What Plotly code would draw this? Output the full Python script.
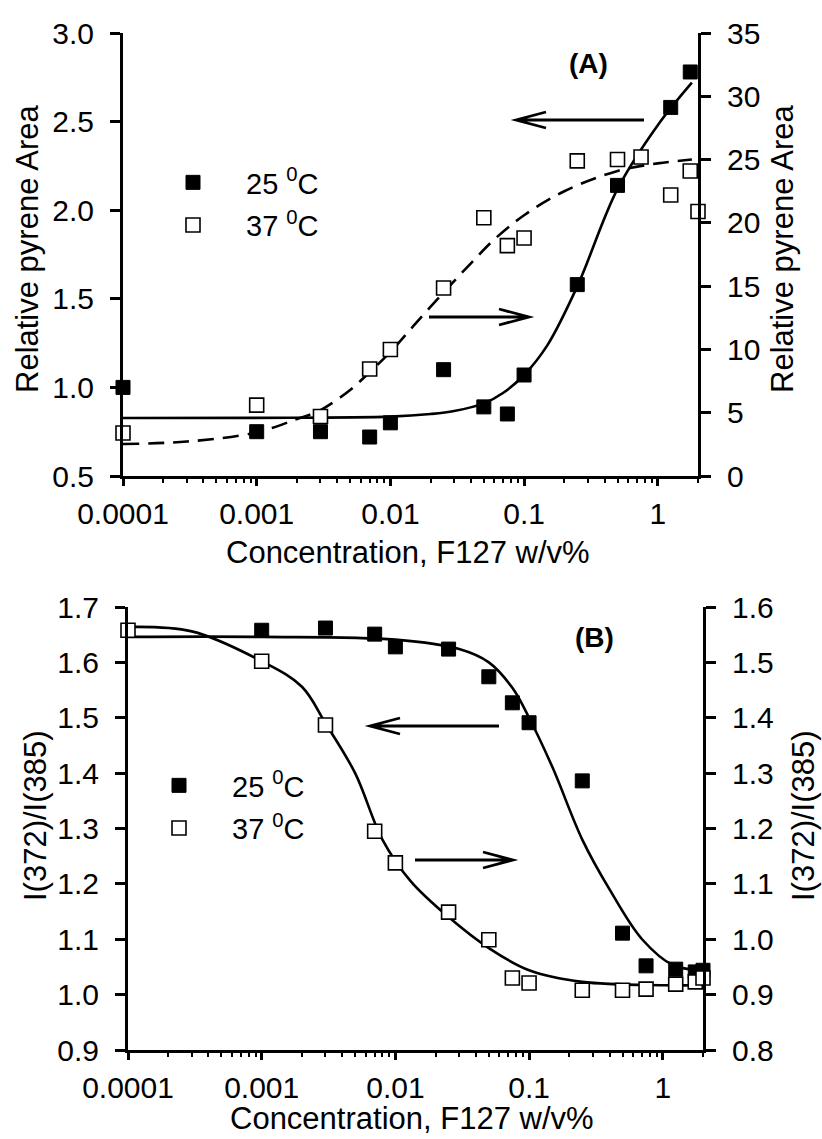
import math
import plotly.graph_objects as go

# ---------------- data ----------------
# Panel A: relative pyrene area
A_x25 = [0.0001, 0.001, 0.003, 0.007, 0.01, 0.025, 0.05, 0.075, 0.1, 0.25, 0.5, 1.25, 1.75]
A_y25 = [1.00, 0.75, 0.75, 0.72, 0.80, 1.10, 0.89, 0.85, 1.07, 1.58, 2.14, 2.58, 2.78]
A_x37 = [0.0001, 0.001, 0.003, 0.007, 0.01, 0.025, 0.05, 0.075, 0.1, 0.25, 0.5, 0.75, 1.25, 1.75, 2.0]
A_y37 = [3.4, 5.6, 4.7, 8.45, 10.0, 14.85, 20.4, 18.2, 18.8, 24.9, 25.0, 25.2, 22.2, 24.1, 20.9]
A_fit25_x = [0.0001, 0.001, 0.01, 0.02, 0.03, 0.05, 0.07, 0.1, 0.15, 0.25, 0.5, 1.0, 1.8]
A_fit25_y = [0.827, 0.828, 0.835, 0.85, 0.867, 0.91, 0.97, 1.07, 1.24, 1.57, 2.12, 2.48, 2.72]
A_fit37_x = [0.0001, 0.0003, 0.001, 0.002, 0.003, 0.005, 0.007, 0.01, 0.015, 0.025, 0.04, 0.06, 0.1, 0.2, 0.5, 1.0, 1.8]
A_fit37_y = [2.53, 2.72, 3.45, 4.5, 5.2, 6.8, 8.2, 9.8, 11.9, 14.5, 16.8, 18.7, 20.6, 22.5, 24.1, 24.7, 25.0]

# Panel B: I(372)/I(385)
B_x25 = [0.001, 0.003, 0.007, 0.01, 0.025, 0.05, 0.075, 0.1, 0.25, 0.5, 0.75, 1.25, 1.75, 2.0]
B_y25 = [1.658, 1.662, 1.651, 1.628, 1.624, 1.574, 1.527, 1.491, 1.386, 1.111, 1.052, 1.046, 1.041, 1.044]
B_x37 = [0.0001, 0.001, 0.003, 0.007, 0.01, 0.025, 0.05, 0.075, 0.1, 0.25, 0.5, 0.75, 1.25, 1.75, 2.0]
B_y37 = [1.558, 1.502, 1.387, 1.195, 1.138, 1.049, 0.999, 0.930, 0.921, 0.908, 0.908, 0.910, 0.919, 0.923, 0.930]
B_fit25_x = [0.0001, 0.001, 0.01, 0.03, 0.05, 0.075, 0.1, 0.15, 0.25, 0.4, 0.7, 1.2, 2.0]
B_fit25_y = [1.646, 1.646, 1.641, 1.624, 1.60, 1.554, 1.50, 1.41, 1.28, 1.19, 1.10, 1.053, 1.044]
B_fit37_x = [0.0001, 0.0003, 0.001, 0.002, 0.003, 0.005, 0.008, 0.013, 0.025, 0.05, 0.1, 0.25, 1.0, 2.0]
B_fit37_y = [1.564, 1.556, 1.502, 1.456, 1.390, 1.30, 1.18, 1.105, 1.04, 0.984, 0.944, 0.923, 0.917, 0.917]

tick_vals = [0.0001, 0.001, 0.01, 0.1, 1]
tick_text = ["0.0001", "0.001", "0.01", "0.1", "1"]
minor_vals = [m * d for d in [0.0001, 0.001, 0.01, 0.1, 1] for m in range(2, 10) if m * d <= 2.0]

legend_labels = ["25 <sup>0</sup>C", "37 <sup>0</sup>C"]
xtitle = "Concentration, F127 w/v%"
ytitle_A = "Relative pyrene Area"
ytitle_B = "I(372)/I(385)"

# ---------------- layout helpers ----------------
W, H = 822, 1139
FONT = "Liberation Sans, Arial, sans-serif"


def px(x):
    return x / W


def py(y):
    return 1 - y / H


LW = 3
fig = go.Figure()

line_style = dict(color="black", width=2.6)
filled = dict(symbol="square", size=14, color="black", line=dict(color="black", width=1))
opened = dict(symbol="square", size=14, color="white", line=dict(color="black", width=1.6))

# Panel A
fig.add_trace(go.Scatter(x=A_fit25_x, y=A_fit25_y, mode="lines", line=dict(shape="spline", **line_style),
                         xaxis="x", yaxis="y", showlegend=False, hoverinfo="skip"))
fig.add_trace(go.Scatter(x=A_fit37_x, y=A_fit37_y, mode="lines",
                         line=dict(shape="spline", dash="16px,9px", **line_style),
                         xaxis="x", yaxis="y2", showlegend=False, hoverinfo="skip"))
fig.add_trace(go.Scatter(x=A_x25, y=A_y25, mode="markers", marker=filled, name=legend_labels[0],
                         xaxis="x", yaxis="y", legend="legend", legendgroup="a25", cliponaxis=False))
fig.add_trace(go.Scatter(x=A_x37, y=A_y37, mode="markers", marker=opened, name=legend_labels[1],
                         xaxis="x", yaxis="y2", legend="legend", legendgroup="a37", cliponaxis=False))

# Panel B
fig.add_trace(go.Scatter(x=B_fit25_x, y=B_fit25_y, mode="lines", line=dict(shape="spline", **line_style),
                         xaxis="x2", yaxis="y3", showlegend=False, hoverinfo="skip"))
fig.add_trace(go.Scatter(x=B_fit37_x, y=B_fit37_y, mode="lines", line=dict(shape="spline", **line_style),
                         xaxis="x2", yaxis="y4", showlegend=False, hoverinfo="skip"))
fig.add_trace(go.Scatter(x=B_x25, y=B_y25, mode="markers", marker=filled, name=legend_labels[0],
                         xaxis="x2", yaxis="y3", legend="legend2", legendgroup="b25", cliponaxis=False))
fig.add_trace(go.Scatter(x=B_x37, y=B_y37, mode="markers", marker=opened, name=legend_labels[1],
                         xaxis="x2", yaxis="y4", legend="legend2", legendgroup="b37", cliponaxis=False))

xrange_log = [-4, math.log10(2.0)]

tickfont = dict(family=FONT, size=30, color="black")


def xaxis_common(domain, anchor):
    return dict(type="log", range=xrange_log, domain=domain, anchor=anchor, automargin=False,
                showline=True, linecolor="black", linewidth=LW, showgrid=False, zeroline=False,
                tickmode="array", tickvals=tick_vals, ticktext=tick_text,
                ticks="outside", ticklen=7, tickwidth=2.5, tickcolor="black",
                tickfont=tickfont, ticklabelstandoff=2,
                minor=dict(tickmode="array", tickvals=minor_vals, ticks="outside", ticklen=4,
                           tickwidth=2, tickcolor="black", showgrid=False))


def xaxis_top(over, anchor):
    return dict(type="log", range=xrange_log, overlaying=over, anchor=anchor, side="top", automargin=False,
                showline=True, linecolor="black", linewidth=LW, showgrid=False, zeroline=False,
                tickmode="array", tickvals=tick_vals, showticklabels=False,
                ticks="inside", ticklen=6, tickwidth=2.5, tickcolor="black",
                minor=dict(tickmode="array", tickvals=minor_vals, ticks="inside", ticklen=4,
                           tickwidth=2, tickcolor="black", showgrid=False))


def yaxis_common(rng, dtick, domain=None, anchor="x", side="left", overlaying=None):
    d = dict(range=rng, dtick=dtick, tick0=rng[0], tickformat=".1f" if dtick < 1 else "d",
             anchor=anchor, side=side, automargin=False,
             showline=True, linecolor="black", linewidth=LW, showgrid=False, zeroline=False,
             ticks="outside", ticklen=10, tickwidth=2.5, tickcolor="black",
             tickfont=tickfont, ticklabelstandoff=10)
    if domain is not None:
        d["domain"] = domain
    if overlaying is not None:
        d["overlaying"] = overlaying
    return d


domA_x = [px(123), px(698)]
domA_y = [py(476), py(33)]
domB_x = [px(128), px(703)]
domB_y = [py(1050), py(607)]

legend_font = dict(family=FONT, size=29, color="black")

fig.update_layout(
    width=W, height=H, autosize=False,
    margin=dict(l=0, r=0, t=0, b=0, pad=0, autoexpand=False),
    paper_bgcolor="white", plot_bgcolor="white",
    font=dict(family=FONT, color="black"),
    xaxis=xaxis_common(domA_x, "y"),
    yaxis=yaxis_common([0.5, 3.0], 0.5, domain=domA_y, anchor="x"),
    yaxis2=yaxis_common([0, 35], 5, anchor="x", side="right", overlaying="y"),
    xaxis2=xaxis_common(domB_x, "y3"),
    yaxis3=yaxis_common([0.9, 1.7], 0.1, domain=domB_y, anchor="x2"),
    yaxis4=yaxis_common([0.8, 1.6], 0.1, anchor="x2", side="right", overlaying="y3"),
    xaxis3=xaxis_top("x", "y"),
    xaxis4=xaxis_top("x2", "y3"),
    legend=dict(x=px(140), y=py(157), xanchor="left", yanchor="top", bgcolor="rgba(0,0,0,0)",
                font=legend_font, itemwidth=96, traceorder="grouped", tracegroupgap=2),
    legend2=dict(x=px(126), y=py(760), xanchor="left", yanchor="top", bgcolor="rgba(0,0,0,0)",
                 font=legend_font, itemwidth=96, traceorder="grouped", tracegroupgap=2),
)

# axis titles and panel labels
title_font = dict(family=FONT, size=31, color="black")
ann = [
    dict(text=xtitle, x=px(408), y=py(553), xref="paper", yref="paper", showarrow=False, font=title_font,
         xanchor="center", yanchor="middle"),
    dict(text=xtitle, x=px(412), y=py(1138), xref="paper", yref="paper", showarrow=False, font=title_font,
         xanchor="center", yanchor="bottom"),
    dict(text=ytitle_A, x=px(27), y=py(249), xref="paper", yref="paper", showarrow=False, font=title_font,
         textangle=-90, xanchor="center", yanchor="middle"),
    dict(text=ytitle_A, x=px(782), y=py(249), xref="paper", yref="paper", showarrow=False, font=title_font,
         textangle=-90, xanchor="center", yanchor="middle"),
    dict(text=ytitle_B, x=px(35), y=py(816), xref="paper", yref="paper", showarrow=False, font=title_font,
         textangle=-90, xanchor="center", yanchor="middle"),
    dict(text=ytitle_B, x=px(803), y=py(816), xref="paper", yref="paper", showarrow=False, font=title_font,
         textangle=-90, xanchor="center", yanchor="middle"),
    dict(text="<b>(A)</b>", x=px(588), y=py(63), xref="paper", yref="paper", showarrow=False,
         font=dict(family=FONT, size=28, color="black"), xanchor="center", yanchor="middle"),
    dict(text="<b>(B)</b>", x=px(594), y=py(637), xref="paper", yref="paper", showarrow=False,
         font=dict(family=FONT, size=28, color="black"), xanchor="center", yanchor="middle"),
]
fig.update_layout(annotations=ann)


# arrows (open V heads)
def arrow(x_start, x_tip, y, head=30, half=8):
    d = 1 if x_tip > x_start else -1
    path = (f"M {px(x_start)},{py(y)} L {px(x_tip)},{py(y)} "
            f"M {px(x_tip - d * head)},{py(y - half)} L {px(x_tip)},{py(y)} L {px(x_tip - d * head)},{py(y + half)}")
    return dict(type="path", xref="paper", yref="paper", path=path,
                line=dict(color="black", width=2.8), layer="above")


fig.update_layout(shapes=[
    arrow(644, 516, 120),
    arrow(429, 529, 317),
    arrow(499, 370, 726),
    arrow(415, 513, 860),
])

fig.write_html("out.html")
